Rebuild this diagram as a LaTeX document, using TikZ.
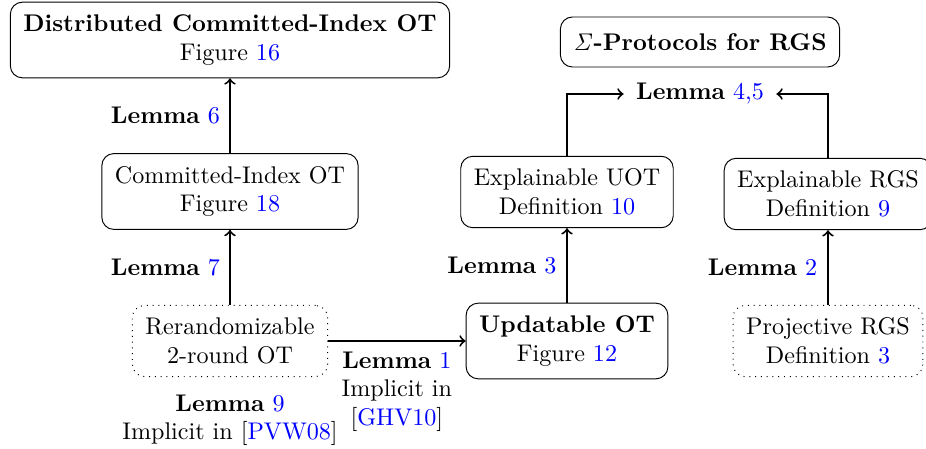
\documentclass[tikz,border=0pt]{standalone}
\usetikzlibrary{positioning}
\definecolor{linkblue}{RGB}{0,0,255}
\newcommand\pxu{0.4149pt}
\newcommand\rf[1]{\textcolor{linkblue}{#1}}
\begin{document}
\begin{tikzpicture}[x=\pxu,y=-\pxu,
  box/.style={draw,rounded corners=5pt,align=center,inner xsep=13*\pxu,inner ysep=12.5*\pxu},
  dotbox/.style={box,dotted},
  arr/.style={->,thick},
  lab/.style={align=center,inner sep=0pt}]
\useasboundingbox (0,0) rectangle (926,448);
% boxes
\node[box] (dcot) at (230,40) {\textbf{Distributed Committed-Index OT}\\Figure \rf{16}};
\node[box] (cot) at (230,191.5) {Committed-Index OT\\Figure \rf{18}};
\node[dotbox] (rr) at (230,341) {Rerandomizable\\2-round OT};
\node[box] (uot) at (567,341) {\textbf{Updatable OT}\\Figure \rf{12}};
\node[box] (euot) at (567,192) {Explainable UOT\\Definition \rf{10}};
\node[box] (ergs) at (828,194) {Explainable RGS\\Definition \rf{9}};
\node[dotbox] (prgs) at (828,341) {Projective RGS\\Definition \rf{3}};
\node[box,minimum height=50*\pxu,inner ysep=0pt] (sig) at (700,42) {$\mathit{\Sigma}$\textbf{-Protocols for RGS}};
\node[lab,inner xsep=12*\pxu] (l45) at (700,94) {\textbf{Lemma} \rf{4,5}};
\node[lab,anchor=north] (l9) at (230,394) {\textbf{Lemma} \rf{9}\\Implicit in [\rf{PVW08}]};
% arrows
\draw[arr] (cot.north) -- (cot.north |- dcot.south)
  node[midway,left=9*\pxu,lab] (l6) {\textbf{Lemma} \rf{6}};
\draw[arr] (rr.north) -- (rr.north |- cot.south)
  node[midway,left=9*\pxu,lab] (l7) {\textbf{Lemma} \rf{7}};
\draw[arr] (rr.east) -- (rr.east -| uot.west)
  node[midway,below=9.5*\pxu,lab] (l1) {\textbf{Lemma} \rf{1}\\Implicit in\\{}[\rf{GHV10}]};
\draw[arr] (uot.north) -- (uot.north |- euot.south)
  node[midway,left=9.5*\pxu,lab] (l3) {\textbf{Lemma} \rf{3}};
\draw[arr] (prgs.north) -- (prgs.north |- ergs.south)
  node[midway,left=10*\pxu,lab] (l2) {\textbf{Lemma} \rf{2}};
\draw[arr] (euot.north) |- (l45.west);
\draw[arr] (ergs.north) |- (l45.east);
\end{tikzpicture}
\end{document}
